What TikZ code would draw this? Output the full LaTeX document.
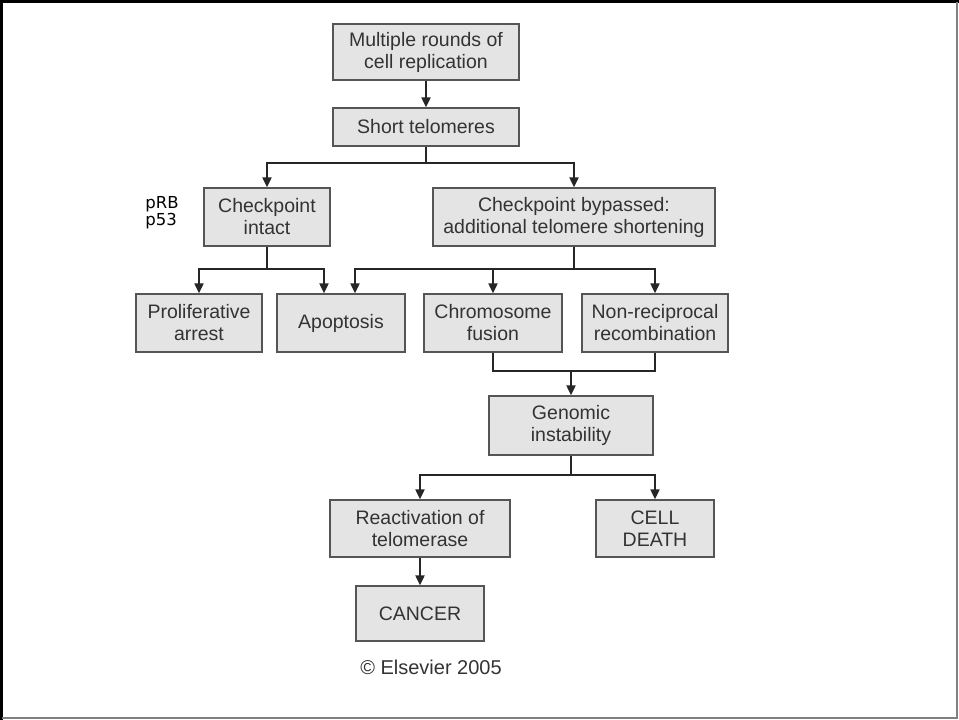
\documentclass[tikz,border=0pt]{standalone}
\usepackage{fontspec}
\setmainfont{Liberation Sans}
\newfontfamily\notefont{DejaVu Sans}
\usetikzlibrary{arrows.meta}
\definecolor{boxfill}{HTML}{E4E4E4}
\definecolor{boxline}{HTML}{555555}
\definecolor{boxtext}{HTML}{333333}
\definecolor{wire}{HTML}{262626}
\begin{document}
\begin{tikzpicture}[x=1pt,y=-1pt,
  box/.style={draw=boxline, fill=boxfill, line width=1.3pt, inner sep=0pt,
    text=boxtext, align=center, font=\fontsize{19.5}{22}\selectfont},
  link/.style={draw=wire, line width=2pt},
  arr/.style={link, -{Triangle[length=10pt,width=9pt]}}]
\useasboundingbox (0,0) rectangle (959,720);
% outer frame
\draw[black, line width=3pt] (1.5,720) -- (1.5,1.5) -- (959,1.5);
\draw[gray, line width=2pt] (957,1.5) -- (957,718) -- (1.5,718);

% boxes
\node[box, minimum width=186, minimum height=56] (mult) at (426,52) {Multiple rounds of\\cell replication};
\node[box, minimum width=186, minimum height=38] (short) at (426,127) {Short telomeres};
\node[box, minimum width=126, minimum height=58] (cpi) at (267,217) {Checkpoint\\intact};
\node[box, minimum width=282, minimum height=58] (cpb) at (574,217) {Checkpoint bypassed:\\additional telomere shortening};
\node[box, minimum width=126, minimum height=58] (pro) at (199,323) {Proliferative\\arrest};
\node[box, minimum width=128, minimum height=58] (apo) at (341,323) {Apoptosis};
\node[box, minimum width=138, minimum height=58] (chr) at (493,323) {Chromosome\\fusion};
\node[box, minimum width=146, minimum height=58] (non) at (655,323) {Non-reciprocal\\recombination};
\node[box, minimum width=164, minimum height=59] (gen) at (571,425.5) {Genomic\\instability};
\node[box, minimum width=180, minimum height=57] (rea) at (420,528.5) {Reactivation of\\telomerase};
\node[box, minimum width=118, minimum height=57] (cd) at (655,528.5) {CELL\\DEATH};
\node[box, minimum width=128, minimum height=55] (can) at (420,613.5) {CANCER};

% side note and credit
\node[align=left, inner sep=0pt, font=\notefont\fontsize{16.5}{17}\selectfont] (note) at (162,213) {pRB\\p53};
\node[inner sep=0pt, text=boxtext, font=\fontsize{20}{24}\selectfont] (credit) at (431,667) {© Elsevier 2005};

% connectors
\draw[arr] (mult.south) -- (short.north);
\draw[link] (short.south) -- ++(0,16) coordinate (s1);
\draw[arr] (s1) -| (cpi.north);
\draw[arr] (s1) -| (cpb.north);

\draw[link] (cpi.south) -- ++(0,22) coordinate (c1);
\draw[arr] (c1) -| (pro.north);
\draw[arr] (c1) -| ([xshift=-17pt]apo.north);

\draw[link] (cpb.south) -- ++(0,22) coordinate (b1);
\draw[arr] (b1) -| ([xshift=14pt]apo.north);
\draw[arr] (b1) -| (chr.north);
\draw[arr] (b1) -| (non.north);

\draw[link] (chr.south) |- ([yshift=24pt]gen.north) -| (non.south);
\draw[arr] ([yshift=24pt]gen.north) -- (gen.north);

\draw[link] (gen.south) -- ++(0,19) coordinate (g1);
\draw[arr] (g1) -| (rea.north);
\draw[arr] (g1) -| (cd.north);

\draw[arr] (rea.south) -- (can.north);
\end{tikzpicture}
\end{document}
